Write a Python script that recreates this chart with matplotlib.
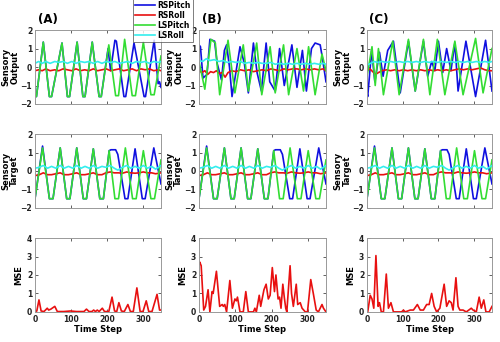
import matplotlib
matplotlib.use("Agg")
import matplotlib.pyplot as plt
from matplotlib.lines import Line2D

# ---- colours (MATLAB-like) ----
c_blue = "#1010e0"
c_red = "#e81010"
c_green = "#33dd33"
c_cyan = "#33eeee"

names = ["RSPitch", "RSRoll", "LSPitch", "LSRoll"]
panel_tags = ["(A)", "(B)", "(C)"]

# ---- sensory target (same in all three columns) ----
tgt_green_x = [0, 21, 40, 50, 70, 88, 97, 116, 134, 143, 162, 180, 190, 206, 222, 232, 251, 271, 281, 301, 322, 332, 350]
tgt_green_y = [-1.5, 1.25, -1.5, -1.5, 1.25, -1.5, -1.5, 1.25, -1.5, -1.5, 1.2, -1.5, -1.5, 1.1, -1.5, -1.5, 1.25, -1.5, -1.5, 1.1, -1.5, -1.5, 0.6]
tgt_blue_x = [0, 21, 40, 50, 70, 88, 97, 116, 134, 143, 162, 180, 190, 206, 211, 224, 230, 250, 258, 278, 298, 306, 330, 350]
tgt_blue_y = [-1.5, 1.35, -1.5, -1.5, 1.25, -1.5, -1.5, 1.25, -1.5, -1.5, 1.2, -1.5, -1.5, 1.1, 1.15, 1.15, 0.9, -1.5, -1.5, 1.2, -1.5, -1.5, 1.25, -0.7]
tgt_cyan_x = [0, 12, 23, 35, 46, 58, 70, 81, 93, 105, 116, 128, 139, 151, 162, 174, 186, 197, 209, 220, 230, 243, 255, 266, 278, 289, 301, 312, 324, 335, 350]
tgt_cyan_y = [0.15, 0.2, 0.3, 0.15, 0.25, 0.15, 0.3, 0.15, 0.25, 0.15, 0.3, 0.15, 0.25, 0.15, 0.3, 0.15, 0.25, 0.2, 0.3, 0.15, 0.05, 0.2, 0.3, 0.15, 0.25, 0.15, 0.3, 0.15, 0.25, 0.1, 0.3]
tgt_red_x = [0, 12, 23, 35, 46, 58, 70, 81, 93, 105, 116, 128, 139, 151, 162, 174, 186, 197, 209, 220, 232, 243, 255, 266, 278, 289, 301, 312, 324, 335, 350]
tgt_red_y = [-0.25, -0.2, -0.1, -0.2, -0.2, -0.15, -0.1, -0.2, -0.2, -0.15, -0.1, -0.2, -0.2, -0.15, -0.1, -0.2, -0.2, -0.1, -0.05, -0.1, -0.1, -0.12, -0.05, -0.1, -0.12, -0.1, -0.05, -0.1, -0.1, -0.15, -0.1]

# ---- sensory output, panel A ----
outA_green_x = [0, 4, 23, 40, 46, 75, 90, 96, 117, 133, 139, 159, 178, 184, 205, 224, 232, 249, 270, 279, 301, 322, 331, 350]
outA_green_y = [-1.5, -1.6, 1.35, -1.6, -1.6, 1.3, -1.6, -1.6, 1.35, -1.6, -1.6, 1.35, -1.6, -1.6, 1.2, -1.55, -1.55, 1.5, -1.55, -1.55, 1.35, -1.5, -1.5, 0.6]
outA_blue_x = [0, 4, 23, 40, 46, 75, 90, 96, 117, 133, 139, 159, 178, 184, 203, 210, 222, 226, 247, 252, 275, 303, 307, 331, 342, 346, 350]
outA_blue_y = [-1.5, -1.6, 1.35, -1.6, -1.6, 1.3, -1.6, -1.6, 1.35, -1.6, -1.6, 1.35, -1.6, -1.6, 1.0, -0.2, 1.45, 1.4, -1.6, -1.6, 1.3, -1.6, -1.6, 1.45, -0.9, -0.8, -1.1]
outA_cyan_x = [0, 10, 20, 30, 42, 55, 66, 78, 90, 102, 114, 126, 138, 150, 162, 174, 186, 198, 210, 222, 234, 246, 258, 270, 282, 294, 306, 318, 330, 342, 350]
outA_cyan_y = [0.2, 0.3, 0.2, 0.3, 0.2, 0.3, 0.25, 0.3, 0.2, 0.3, 0.2, 0.3, 0.25, 0.3, 0.2, 0.3, 0.2, 0.3, 0.25, 0.3, 0.2, 0.25, 0.3, 0.2, 0.3, 0.25, 0.3, 0.2, 0.3, 0.25, 0.3]
outA_red_x = [0, 10, 20, 30, 42, 55, 66, 78, 90, 102, 114, 126, 138, 150, 162, 174, 186, 198, 210, 222, 234, 246, 258, 270, 282, 294, 306, 318, 330, 342, 350]
outA_red_y = [-0.2, -0.15, -0.2, -0.1, -0.2, -0.15, -0.2, -0.1, -0.15, -0.2, -0.1, -0.2, -0.15, -0.2, -0.1, -0.2, -0.15, -0.1, -0.2, -0.15, -0.1, -0.2, -0.15, -0.1, -0.2, -0.1, -0.15, -0.1, -0.2, -0.15, -0.2]

# ---- sensory output, panel B ----
outB_green_x = [0, 16, 33, 45, 57, 80, 99, 122, 136, 159, 173, 196, 210, 233, 247, 270, 288, 302, 320, 339, 350]
outB_green_y = [0.3, -1.2, 1.5, 1.3, -1.5, 1.45, -1.4, 1.2, -1.3, 1.3, -1.5, 1.1, -1.4, 1.2, -1.5, 1.0, -1.3, 1.1, -1.5, 0.7, -0.2]
outB_blue_x = [0, 4, 11, 22, 30, 43, 50, 62, 70, 76, 84, 91, 100, 113, 125, 136, 150, 160, 172, 185, 195, 210, 222, 235, 256, 270, 285, 296, 310, 320, 334, 340, 350]
outB_blue_y = [1.2, 1.1, -0.6, -0.4, 1.5, 1.4, 0.2, -0.7, 0.9, 1.2, 0.0, -1.6, -0.5, 1.1, 0.2, -1.4, 1.3, -0.3, -1.3, 1.3, -0.8, -1.3, 1.0, -1.0, 1.2, -1.1, 0.9, -1.3, 1.0, 1.3, 1.2, 0.5, -0.8]
outB_cyan_x = [0, 10, 20, 30, 42, 55, 66, 78, 90, 102, 114, 126, 138, 150, 162, 174, 186, 198, 210, 222, 234, 246, 258, 270, 282, 294, 306, 318, 330, 342, 350]
outB_cyan_y = [0.35, 0.3, 0.45, 0.35, 0.4, 0.3, 0.35, 0.25, 0.3, 0.25, 0.3, 0.2, 0.25, 0.2, 0.25, 0.2, 0.2, 0.25, 0.15, 0.2, 0.15, 0.2, 0.15, 0.2, 0.15, 0.2, 0.15, 0.2, 0.15, 0.2, 0.15]
outB_red_x = [0, 8, 16, 24, 32, 40, 48, 56, 64, 72, 80, 90, 102, 114, 126, 138, 150, 162, 174, 186, 198, 210, 222, 234, 246, 258, 270, 282, 294, 306, 318, 330, 342, 350]
outB_red_y = [-0.2, -0.3, -0.2, -0.4, -0.25, -0.3, -0.2, -0.35, -0.3, -0.55, -0.3, -0.2, -0.25, -0.15, -0.2, -0.15, -0.25, -0.2, -0.15, -0.2, -0.1, -0.15, -0.2, -0.1, -0.15, -0.1, -0.1, -0.15, -0.1, -0.15, -0.1, -0.15, -0.1, -0.2]

# ---- sensory output, panel C ----
outC_green_x = [0, 14, 23, 32, 46, 72, 90, 116, 135, 158, 176, 197, 218, 246, 269, 304, 325, 350]
outC_green_y = [-0.5, 1.1, -1.0, 1.0, -1.5, 1.4, -1.5, 1.5, -1.3, 1.5, -1.5, 1.5, -1.5, 1.4, -1.5, 1.55, -1.4, 1.0]
outC_blue_x = [0, 2, 13, 22, 35, 45, 58, 74, 93, 116, 135, 158, 170, 181, 190, 200, 212, 223, 235, 246, 255, 277, 304, 332, 350]
outC_blue_y = [-1.4, -1.6, 0.9, -0.8, 0.8, -0.5, 0.9, 1.4, -1.4, 1.4, -1.3, 1.4, -0.5, 0.3, -0.2, 1.4, -0.3, 1.0, -0.2, 1.3, -1.3, 1.4, -1.6, 1.45, -1.3]
outC_cyan_x = [0, 10, 20, 30, 42, 55, 66, 78, 90, 102, 114, 126, 138, 150, 162, 174, 186, 198, 210, 222, 234, 246, 258, 270, 282, 294, 306, 318, 330, 342, 350]
outC_cyan_y = [0.1, 0.2, 0.3, 0.25, 0.3, 0.25, 0.3, 0.25, 0.3, 0.25, 0.3, 0.25, 0.3, 0.25, 0.3, 0.25, 0.3, 0.25, 0.3, 0.25, 0.3, 0.25, 0.3, 0.25, 0.3, 0.25, 0.3, 0.25, 0.3, 0.25, 0.3]
outC_red_x = [0, 8, 16, 24, 32, 42, 55, 66, 78, 90, 102, 114, 126, 138, 150, 162, 174, 186, 198, 210, 222, 234, 246, 258, 270, 282, 294, 306, 318, 330, 342, 350]
outC_red_y = [-0.2, -0.1, -0.25, -0.4, -0.3, -0.2, -0.15, -0.2, -0.15, -0.2, -0.15, -0.2, -0.15, -0.2, -0.15, -0.2, -0.15, -0.2, -0.15, -0.2, -0.15, -0.2, -0.15, -0.1, -0.15, -0.1, -0.15, -0.1, -0.05, -0.15, -0.2, -0.2]

# ---- MSE ----
mseA_x = [0, 5, 11, 17, 25, 34, 38, 44, 55, 62, 80, 99, 115, 136, 143, 150, 158, 163, 168, 173, 178, 187, 193, 205, 214, 221, 227, 233, 240, 248, 258, 265, 273, 283, 292, 300, 309, 316, 325, 339, 346, 350]
mseA_y = [0.02, 0.05, 0.65, 0.05, 0.02, 0.2, 0.1, 0.15, 0.3, 0.02, 0.02, 0.05, 0.02, 0.02, 0.15, 0.02, 0.02, 0.1, 0.02, 0.1, 0.02, 0.2, 0.02, 0.02, 0.8, 0.05, 0.02, 0.5, 0.05, 0.02, 0.4, 0.02, 0.02, 1.3, 0.02, 0.02, 0.6, 0.02, 0.02, 0.95, 0.1, 0.1]
mseB_x = [0, 2, 6, 13, 18, 25, 30, 36, 39, 48, 57, 64, 67, 71, 76, 85, 92, 99, 103, 106, 113, 122, 129, 136, 150, 154, 158, 166, 170, 179, 185, 191, 196, 202, 208, 212, 218, 222, 226, 231, 235, 239, 242, 251, 255, 260, 268, 272, 279, 284, 293, 299, 308, 315, 323, 329, 339, 343, 350]
mseB_y = [2.6, 2.7, 2.5, 0.1, 0.3, 1.2, 0.0, 1.1, 1.0, 2.2, 0.3, 0.4, 0.3, 0.4, 0.0, 1.7, 0.2, 0.7, 0.6, 0.8, 0.0, 0.0, 1.1, 0.0, 0.0, 0.2, 0.0, 0.9, 0.3, 1.2, 1.5, 0.7, 0.9, 2.4, 1.1, 2.0, 0.7, 0.8, 0.2, 1.5, 0.8, 0.2, 0.0, 2.5, 1.0, 0.3, 1.5, 0.4, 0.5, 0.2, 0.0, 0.0, 1.75, 1.0, 0.1, 0.0, 0.4, 0.2, 0.0]
mseC_x = [0, 2, 9, 14, 19, 25, 31, 35, 40, 46, 54, 60, 67, 74, 97, 102, 107, 121, 130, 141, 149, 158, 167, 174, 181, 188, 195, 204, 216, 223, 230, 236, 241, 249, 255, 260, 269, 278, 292, 297, 306, 314, 320, 327, 333, 342, 350]
mseC_y = [0.0, 0.0, 0.9, 0.7, 0.2, 3.05, 0.3, 0.5, 0.0, 0.0, 2.05, 0.2, 0.5, 0.0, 0.0, 0.1, 0.0, 0.1, 0.1, 0.4, 0.1, 0.1, 0.4, 0.4, 1.0, 0.3, 0.0, 0.2, 1.5, 0.3, 0.6, 0.5, 0.1, 1.85, 0.3, 0.1, 0.1, 0.0, 0.2, 0.1, 0.0, 0.8, 0.2, 0.65, 0.0, 0.0, 0.3]

outputs = [
    (outA_blue_x, outA_blue_y, outA_red_x, outA_red_y, outA_green_x, outA_green_y, outA_cyan_x, outA_cyan_y),
    (outB_blue_x, outB_blue_y, outB_red_x, outB_red_y, outB_green_x, outB_green_y, outB_cyan_x, outB_cyan_y),
    (outC_blue_x, outC_blue_y, outC_red_x, outC_red_y, outC_green_x, outC_green_y, outC_cyan_x, outC_cyan_y),
]
target = (tgt_blue_x, tgt_blue_y, tgt_red_x, tgt_red_y, tgt_green_x, tgt_green_y, tgt_cyan_x, tgt_cyan_y)
mses = [(mseA_x, mseA_y), (mseB_x, mseB_y), (mseC_x, mseC_y)]

plt.rcParams["font.family"] = "DejaVu Sans"
plt.rcParams["font.weight"] = "bold"

fig = plt.figure(figsize=(5.0, 3.42), dpi=100)

col_left = [0.070, 0.398, 0.734]
col_w = [0.252, 0.254, 0.250]
row_bottom = [0.696, 0.392, 0.088]
row_h = 0.216

def style_axes(ax, ylim, yticks, xlabels):
    ax.set_xlim(0, 350)
    ax.set_ylim(*ylim)
    ax.set_xticks([0, 100, 200, 300])
    ax.set_yticks(yticks)
    ax.tick_params(direction="in", length=2, width=0.5, labelsize=5.5, pad=2,
                   top=True, right=True, colors="#222222")
    if not xlabels:
        ax.set_xticklabels([])
    for s in ax.spines.values():
        s.set_color("#999999")
        s.set_linewidth(0.7)
    for lab in ax.get_xticklabels() + ax.get_yticklabels():
        lab.set_fontweight("bold")

def sensor_ylabel(ax, text):
    ax.set_ylabel(text, fontsize=6, fontweight="bold", linespacing=0.95)
    ax.yaxis.set_label_coords(-0.125, 0.5)

lw = 1.2
for j in range(3):
    # row 1: sensory output
    ax = fig.add_axes([col_left[j], row_bottom[0], col_w[j], row_h])
    bx, by, rx, ry, gx, gy, cx, cy = outputs[j]
    ax.plot(bx, by, color=c_blue, lw=lw)
    ax.plot(rx, ry, color=c_red, lw=lw)
    ax.plot(gx, gy, color=c_green, lw=lw)
    ax.plot(cx, cy, color=c_cyan, lw=lw)
    style_axes(ax, (-2, 2), [-2, -1, 0, 1, 2], False)
    sensor_ylabel(ax, "Sensory\nOutput")
    ax.text(0.02, 1.05, panel_tags[j], transform=ax.transAxes, fontsize=8.5,
            fontweight="bold", ha="left", va="bottom")

    # row 2: sensory target
    ax = fig.add_axes([col_left[j], row_bottom[1], col_w[j], row_h])
    bx, by, rx, ry, gx, gy, cx, cy = target
    ax.plot(bx, by, color=c_blue, lw=lw)
    ax.plot(rx, ry, color=c_red, lw=lw)
    ax.plot(gx, gy, color=c_green, lw=lw)
    ax.plot(cx, cy, color=c_cyan, lw=lw)
    style_axes(ax, (-2, 2), [-2, -1, 0, 1, 2], False)
    sensor_ylabel(ax, "Sensory\nTarget")

    # row 3: MSE
    ax = fig.add_axes([col_left[j], row_bottom[2], col_w[j], row_h])
    mx, my = mses[j]
    ax.plot(mx, my, color=c_red, lw=lw)
    style_axes(ax, (0, 4), [0, 1, 2, 3, 4], True)
    ax.set_ylabel("MSE", fontsize=6, fontweight="bold")
    ax.yaxis.set_label_coords(-0.095, 0.5)
    ax.set_xlabel("Time Step", fontsize=6, fontweight="bold", labelpad=1)

handles = [Line2D([], [], color=c, lw=1.2) for c in [c_blue, c_red, c_green, c_cyan]]
leg = fig.legend(handles, names, loc="upper left", bbox_to_anchor=(0.266, 1.005),
                 fontsize=5.5, frameon=True, fancybox=False, handlelength=2.6,
                 handletextpad=0.3, labelspacing=0.15, borderpad=0.3, borderaxespad=0)
leg.get_frame().set_edgecolor("#444444")
leg.get_frame().set_linewidth(0.6)
for t in leg.get_texts():
    t.set_fontweight("bold")

fig.savefig("out.png", dpi=100)
